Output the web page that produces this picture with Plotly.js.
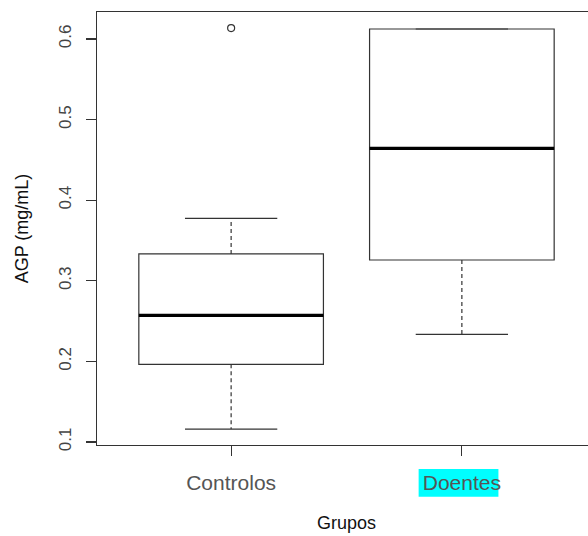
<!DOCTYPE html>
<html>
<head>
<meta charset="utf-8">
<script src="https://cdn.plot.ly/plotly-3.0.1.min.js"></script>
<style>
  html, body { margin: 0; padding: 0; overflow: hidden; background: #fff; width: 588px; height: 536px; }
  #chart { width: 610px; height: 536px; }
</style>
</head>
<body>
<div id="chart"></div>
<script>
// ---- data ----
const categories = ["Controlos", "Doentes"];
const lowerWhisker = [0.1161, 0.2336];
const q1Values = [0.1964, 0.3258];
const medianValues = [0.2572, 0.4644];
const q3Values = [0.3333, 0.6124];
const upperWhisker = [0.3775, 0.6124];
const outlierGroup = ["Controlos"];
const outlierValues = [0.6136];
const yTickValues = [0.1, 0.2, 0.3, 0.4, 0.5, 0.6];
const yTickLabels = ["0.1", "0.2", "0.3", "0.4", "0.5", "0.6"];

// ---- derived ----
const positions = categories.map((c, i) => i + 1);
const boxWidth = 0.8;
const capHalf = boxWidth / 4;
const lineColor = "#333333";

const traces = [];

// boxes (no whiskers; whiskers drawn dashed below)
traces.push({
  type: "box",
  x: positions,
  q1: q1Values,
  median: medianValues,
  q3: q3Values,
  lowerfence: q1Values,
  upperfence: q3Values,
  width: boxWidth,
  whiskerwidth: 0,
  boxpoints: false,
  fillcolor: "rgba(255,255,255,0)",
  line: { color: lineColor, width: 1.2 },
  hoverinfo: "skip",
  showlegend: false
});

positions.forEach((p, i) => {
  // dashed whiskers
  traces.push({
    type: "scatter", mode: "lines",
    x: [p, p], y: [q3Values[i], upperWhisker[i]],
    line: { color: lineColor, width: 1.2, dash: "4px,3px" },
    hoverinfo: "skip", showlegend: false
  });
  traces.push({
    type: "scatter", mode: "lines",
    x: [p, p], y: [q1Values[i], lowerWhisker[i]],
    line: { color: lineColor, width: 1.2, dash: "4px,3px" },
    hoverinfo: "skip", showlegend: false
  });
  // whisker caps
  traces.push({
    type: "scatter", mode: "lines",
    x: [p - capHalf, p + capHalf], y: [upperWhisker[i], upperWhisker[i]],
    line: { color: lineColor, width: 1.2 },
    hoverinfo: "skip", showlegend: false
  });
  traces.push({
    type: "scatter", mode: "lines",
    x: [p - capHalf, p + capHalf], y: [lowerWhisker[i], lowerWhisker[i]],
    line: { color: lineColor, width: 1.2 },
    hoverinfo: "skip", showlegend: false
  });
  // thick median
  traces.push({
    type: "scatter", mode: "lines",
    x: [p - boxWidth / 2, p + boxWidth / 2], y: [medianValues[i], medianValues[i]],
    line: { color: "#000000", width: 3.2 },
    hoverinfo: "skip", showlegend: false
  });
});

// outliers
traces.push({
  type: "scatter", mode: "markers",
  x: outlierGroup.map(g => categories.indexOf(g) + 1),
  y: outlierValues,
  marker: { symbol: "circle-open", size: 7, color: lineColor, line: { width: 1.2, color: lineColor } },
  hoverinfo: "skip", showlegend: false
});

const font = "Liberation Sans, Arial, sans-serif";

const layout = {
  width: 610,
  height: 536,
  margin: { l: 97, r: 14, t: 12, b: 91, pad: 0 },
  paper_bgcolor: "#ffffff",
  plot_bgcolor: "#ffffff",
  showlegend: false,
  font: { family: font, color: "#000" },
  xaxis: {
    range: [0.4187, 2.5813],
    tickvals: positions,
    ticktext: categories,
    ticks: "outside",
    ticklen: 10,
    tickwidth: 1.2,
    tickcolor: lineColor,
    tickfont: { family: font, size: 21, color: "#555555" },
    ticklabelstandoff: 9,
    showgrid: false,
    zeroline: false,
    showline: true,
    linecolor: lineColor,
    linewidth: 1.2,
    mirror: true,
    title: { text: "Grupos", font: { family: font, size: 18, color: "#111" }, standoff: 23 }
  },
  yaxis: {
    range: [0.0963, 0.6335],
    tickvals: yTickValues,
    ticktext: yTickLabels,
    tickangle: -90,
    ticks: "outside",
    ticklen: 10,
    tickwidth: 1.2,
    tickcolor: lineColor,
    tickfont: { family: font, size: 17, color: "#444444" },
    ticklabelstandoff: 8,
    showgrid: false,
    zeroline: false,
    showline: true,
    linecolor: lineColor,
    linewidth: 1.2,
    mirror: true,
    title: { text: "AGP (mg/mL)", font: { family: font, size: 18, color: "#111" }, standoff: 22 }
  },
  shapes: [{
    type: "rect", layer: "below",
    xref: "x", yref: "paper",
    x0: 1.8126, x1: 2.1584, y0: -0.1194, y1: -0.0554,
    fillcolor: "#00ffff", line: { width: 0 }
  }]
};

Plotly.newPlot("chart", traces, layout, { staticPlot: true, displayModeBar: false });
</script>
</body>
</html>
